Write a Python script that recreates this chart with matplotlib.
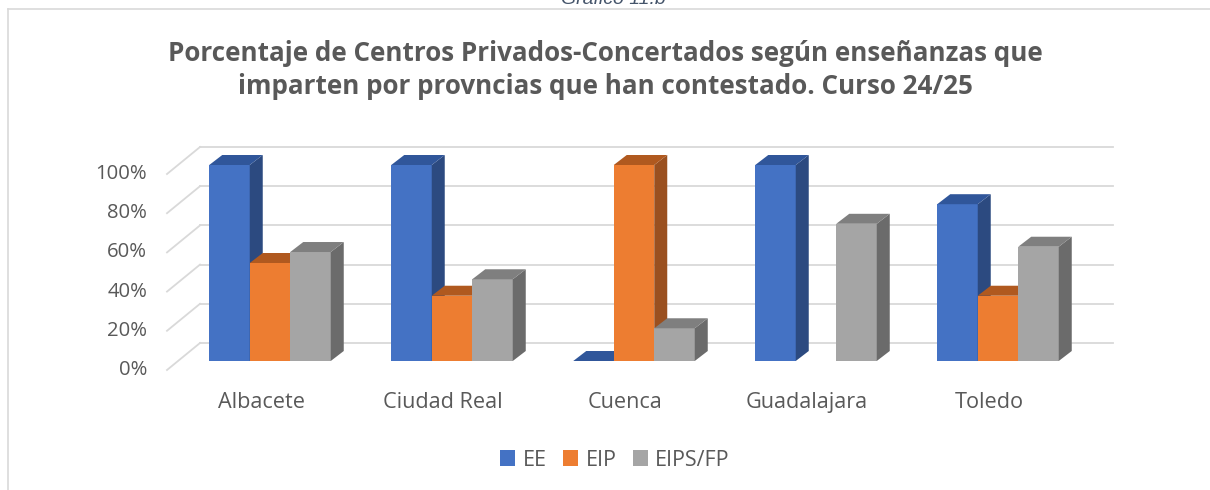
import numpy as np
import matplotlib
matplotlib.use("Agg")
import matplotlib.pyplot as plt
from matplotlib.patches import Polygon, Patch

categories = ["Albacete", "Ciudad Real", "Cuenca", "Guadalajara", "Toledo"]
series_names = ["EE", "EIP", "EIPS/FP"]
ee = [100, 100, 0, 100, 80]
eip = [50, 33.3, 100, np.nan, 33.3]
eips_fp = [55.6, 41.7, 16.7, 70, 58.3]
yticks = [0, 20, 40, 60, 80, 100]
ytick_labels = ["0%", "20%", "40%", "60%", "80%", "100%"]

front = ["#4472C4", "#ED7D31", "#A5A5A5"]
side = ["#2C4A80", "#9A5020", "#6B6B6B"]
top = ["#30569A", "#B0591F", "#7F7F7F"]
text_col = "#595959"
FONT = "Open Sans"

W, H = 1210, 490
fig = plt.figure(figsize=(W / 100, H / 100), dpi=100)

px0, pxs = 270.0, 182.0
py0, pys = 361.0, 1.96
L, R, T, B = 150, 1130, 130, 400
ax = fig.add_axes([L / W, 1 - B / H, (R - L) / W, (B - T) / H])
ax.set_xlim((L - px0) / pxs, (R - px0) / pxs)
ax.set_ylim((py0 - B) / pys, (py0 - T) / pys)
ax.axis("off")

def dxu(p):
    return p / pxs

def dyu(p):
    return p / pys

wall_dx, wall_dy = dxu(33), dyu(18)
floor_dy = -dyu(9)
gx0, gx1 = dxu(200 - px0), dxu(1113 - px0)
for v, lab in zip(yticks, ytick_labels):
    ax.plot([gx0, gx1], [v + wall_dy, v + wall_dy], color="#D9D9D9", lw=1.3, zorder=1)
    ax.plot([gx0 - wall_dx, gx0], [v + floor_dy, v + wall_dy], color="#D9D9D9", lw=1.3, zorder=1)
    ax.text(dxu(147 - px0), v + floor_dy, lab, ha="right", va="center",
            fontsize=14.6, color=text_col, family=FONT)

bw = dxu(40.5)
bdx, bdy = dxu(13), dyu(10)
x = np.arange(len(categories))
z = 2
for j, vals in enumerate([ee, eip, eips_fp]):
    xl = x - 1.5 * bw + j * bw
    ax.bar(xl, vals, width=bw, align="edge", color=front[j], zorder=z, edgecolor="none")
    for xi, h in zip(xl, vals):
        if np.isnan(h):
            continue
        ax.add_patch(Polygon([(xi + bw, 0), (xi + bw + bdx, bdy), (xi + bw + bdx, h + bdy), (xi + bw, h)],
                             closed=True, facecolor=side[j], edgecolor="none", zorder=z))
        ax.add_patch(Polygon([(xi, h), (xi + bw, h), (xi + bw + bdx, h + bdy), (xi + bdx, h + bdy)],
                             closed=True, facecolor=top[j], edgecolor="none", zorder=z + 0.5))
    z += 1

for i, c in enumerate(categories):
    ax.text(i - dxu(9), dyu(py0 - 402), c, ha="center", va="center", fontsize=15.6,
            color=text_col, family=FONT, clip_on=False)

fig.text(605 / W, 1 - 70 / H,
         "Porcentaje de Centros Privados-Concertados según enseñanzas que\n"
         "imparten por provncias que han contestado. Curso 24/25",
         ha="center", va="center", fontsize=18.7, fontweight="bold", color=text_col,
         family=FONT, linespacing=1.3)

fig.text(613 / W, 1 - 4 / H, "Gráfico 11.b", ha="center", va="baseline", fontsize=14,
         style="italic", color="#44546A", family="Liberation Sans")

fig.add_artist(plt.Line2D([8 / W, 1], [1 - 9 / H, 1 - 9 / H], color="#D9D9D9", lw=1.2))
fig.add_artist(plt.Line2D([8 / W, 8 / W], [1 - 9 / H, 0], color="#D9D9D9", lw=1.2))

handles = [Patch(facecolor=front[j], edgecolor="none", label=series_names[j]) for j in range(3)]
fig.legend(handles=handles, loc="center", bbox_to_anchor=(615 / W, 1 - 460 / H), ncol=3,
           frameon=False, handlelength=0.7, handleheight=0.7, handletextpad=0.35,
           columnspacing=0.75, prop={"family": FONT, "size": 15.5}, labelcolor=text_col)

fig.savefig("out.png", dpi=100, facecolor="white")
